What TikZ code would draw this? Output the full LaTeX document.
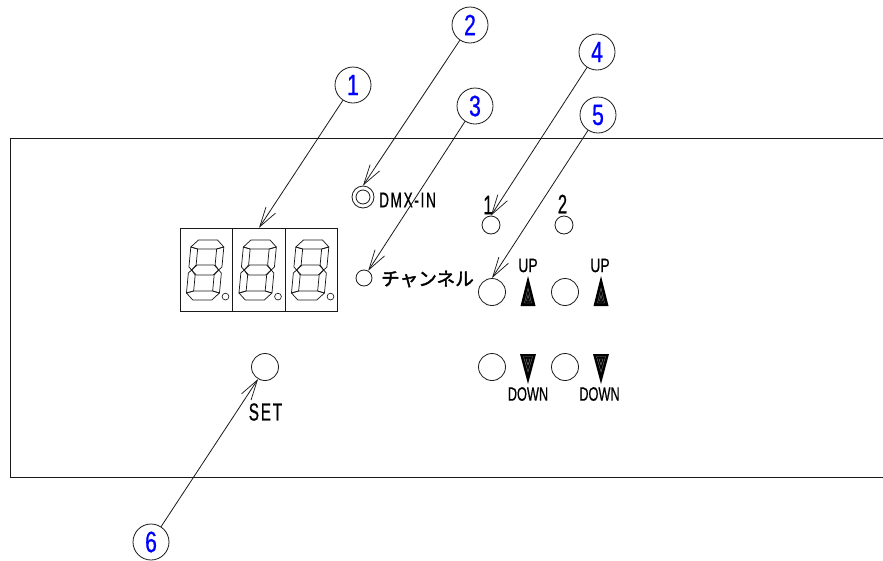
\documentclass[tikz,border=0pt]{standalone}
\usepackage{graphicx}
\usepackage{fontspec}
\usetikzlibrary{arrows.meta}
\setmainfont{Liberation Sans}[FakeBold=0.7]
\newfontfamily\jpfont{Noto Sans CJK JP}[FakeBold=2]
\newfontfamily\spaced{Liberation Sans}[LetterSpace=12,FakeBold=0.8]
\newfontfamily\numfont{Liberation Sans}[FakeBold=0.8]
\newcommand{\numtxt}[1]{\numfont\fontsize{22}{22}\selectfont\scalebox{0.72}[1]{#1}}
\newcommand{\bigtxt}[1]{\fontsize{20}{20}\selectfont\scalebox{0.62}[1]{#1}}
\newcommand{\smalltxt}[1]{\fontsize{14.5}{14.5}\selectfont\scalebox{#1}[1]}
\tikzset{
  x=0.75pt,y=-0.75pt,
  thinline/.style={draw=black!90,line width=0.6pt},
  pin/.style={thinline,-{Straight Barb[length=15pt,width=8.5pt,line width=0.55pt]}},
  callout/.style={circle,thinline,fill=white,minimum size=27pt,inner sep=0pt,text=blue},
  btn/.style={circle,thinline,inner sep=0pt,minimum size=#1*0.75pt},
  cell/.style={rectangle,thinline,inner sep=0pt,minimum width=39.5pt,minimum height=62.6pt},
  lab/.style={inner sep=0pt,text=black},
  digit/.pic={
    \begin{scope}[xslant=0.095,thinline,line width=0.55pt,line join=round]
      \draw (0,7)--(7,0)--(26,0)--(33,7)--(26,9)--(7,9)--cycle;
      \draw (0,7)--(7,9)--(7,25)--(3,30)--(0,27)--cycle;
      \draw (33,7)--(26,9)--(26,25)--(30,30)--(33,27)--cycle;
      \draw (3,30)--(8,25)--(25,25)--(30,30)--(25,35)--(8,35)--cycle;
      \draw (3,30)--(0,33)--(0,53)--(7,51)--(7,35)--cycle;
      \draw (30,30)--(33,33)--(33,53)--(26,51)--(26,35)--cycle;
      \draw (0,53)--(7,60)--(26,60)--(33,53)--(26,51)--(7,51)--cycle;
    \end{scope}
    \draw[thinline,line width=0.5pt] (34,56.6) circle[radius=3.4];
  },
  uptri/.pic={
    \fill[black] (0,-15)--(-7.5,15)--(7.5,15)--cycle;
    \draw[black!45,line width=0.25pt] (0,-3)--(-3.5,12)--(3.5,12)--cycle (0,4)--(-1.5,10)--(1.5,10)--cycle;
  },
  downtri/.pic={
    \fill[black] (0,15)--(-8,-15)--(8,-15)--cycle;
    \draw[black!45,line width=0.25pt] (0,3)--(-4.5,-12.5)--(4.5,-12.5)--cycle (0,-4)--(-2,-10)--(2,-10)--cycle;
  }
}
\begin{document}
\begin{tikzpicture}
\useasboundingbox (0,0) rectangle (883,561);
% panel outline
\draw[thinline] (883,138)--(10,138)--(10,477)--(883,477);
% display
\node[cell] (d1) at (206.4,270) {};
\node[cell] (d2) at (259,270) {};
\node[cell] (d3) at (311.3,270) {};
\pic at (191.5,240) {digit};
\pic at (244,240) {digit};
\pic at (296.5,240) {digit};
% controls
\node[btn=22] (dmx) at (363,197) {};
\node[btn=14] at (363,197) {};
\node[btn=16] (ch) at (364,278) {};
\node[btn=18] (c4) at (491,225) {};
\node[btn=18] (c2) at (564,225) {};
\node[btn=27] (c5) at (492,292) {};
\node[btn=27] (u2) at (565,292) {};
\node[btn=27] (dn1) at (492,367) {};
\node[btn=27] (dn2) at (565,367) {};
\node[btn=27] (set) at (265,367) {};
\pic at (528,291) {uptri};
\pic at (601,291) {uptri};
\pic at (528,369) {downtri};
\pic at (601,369) {downtri};
% labels
\node[lab] at (407.5,200) {\spaced\fontsize{16}{16}\selectfont\scalebox{0.64}[1]{DMX-IN}};
\node[lab] at (427.5,279) {\jpfont\fontsize{14}{14}\selectfont チャンネル};
\node[lab] at (488,205) {\bigtxt{1}};
\node[lab] at (562.5,204) {\bigtxt{2}};
\node[lab] at (528,265.5) {\smalltxt{0.72}{UP}};
\node[lab] at (600,265.5) {\smalltxt{0.72}{UP}};
\node[lab] at (528,394) {\smalltxt{0.66}{DOWN}};
\node[lab] at (599.5,394) {\smalltxt{0.66}{DOWN}};
\node[lab] at (265.5,412) {\spaced\fontsize{18.5}{18.5}\selectfont\scalebox{0.62}[1]{SET}};
% callouts
\node[callout] (n1) at (353,85) {\numtxt{1}};
\node[callout] (n2) at (470,25) {\numtxt{2}};
\node[callout] (n3) at (475,106) {\numtxt{3}};
\node[callout] (n4) at (597,52) {\numtxt{4}};
\node[callout] (n5) at (598,115) {\numtxt{5}};
\node[callout] (n6) at (151,542) {\numtxt{6}};
\draw[pin] (n1)--(d2.north);
\draw[pin] (n2)--(dmx.north);
\draw[pin] (n3)--(ch.60);
\draw[pin] (n4)--(c4.north);
\draw[pin] (n5)--(c5.north);
\draw[pin] (n6)--(set.240);
\end{tikzpicture}
\end{document}
